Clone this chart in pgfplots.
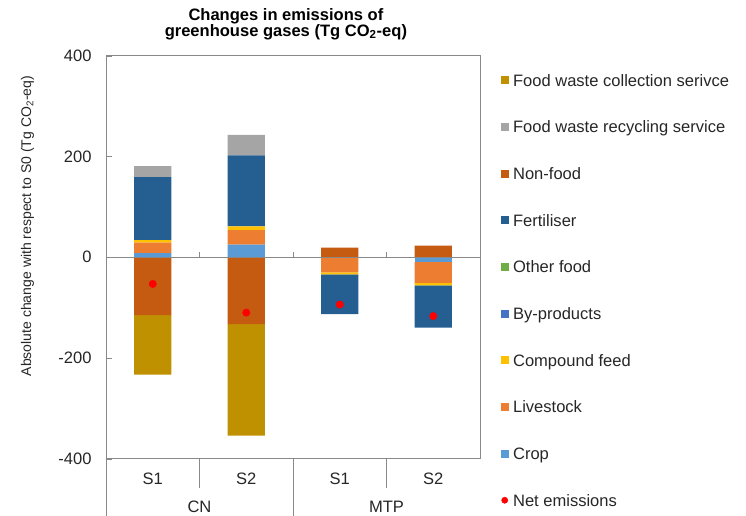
\documentclass[border=0pt]{standalone}
\usepackage{fontspec}
\setmainfont{Liberation Sans}
\usepackage{pgfplots}
\usepackage{pgfplotstable}
\pgfplotsset{compat=1.18}

\definecolor{cCollect}{HTML}{BF9000}
\definecolor{cRecycle}{HTML}{A5A5A5}
\definecolor{cNonfood}{HTML}{C55A11}
\definecolor{cFert}{HTML}{255E91}
\definecolor{cOther}{HTML}{70AD47}
\definecolor{cByprod}{HTML}{4472C4}
\definecolor{cCompound}{HTML}{FFC000}
\definecolor{cLivestock}{HTML}{ED7D31}
\definecolor{cCrop}{HTML}{5B9BD5}
\definecolor{axgray}{HTML}{898989}
\definecolor{txt}{HTML}{262626}

% Positive contributions (Tg CO2-eq), categories: CN-S1, CN-S2, MTP-S1, MTP-S2
\pgfplotstableread{
x crop livestock compound byprod other fert nonfood recycle collect
0 8   21  5  0 0 125 0   22 0
1 25  29  7  0 0 141 0   41 0
2 0   0   0  0 0 0   19  0  0
3 0   0   0  0 0 0   23  0  0
}\posdata
% Negative contributions
\pgfplotstableread{
x crop livestock compound byprod other fert nonfood recycle collect
0 0   0   0  0 0 0   -115 0 -118
1 0   0   0  0 0 0   -133 0 -221
2 0   -30 -4 0 0 -79 0    0 0
3 -10 -41 -5 0 0 -84 0    0 0
}\negdata
% Net emissions
\pgfplotstableread{
x net
0 -53
1 -110
2 -94
3 -117
}\netdata

\newcommand{\lblfont}{\fontsize{12.4}{14}\selectfont}

\pgfplotsset{
  chartbase/.style={
    at={(79.5pt,42.225pt)}, anchor=south west,
    width=280.5pt, height=302.25pt, scale only axis,
    xmin=-0.5, xmax=3.5, ymin=-400, ymax=400,
    clip=false,
  },
  stackbars/.style={ybar stacked, bar width=0.4},
  seg/.style={fill=#1, draw=none, forget plot},
  sq/.style={legend image code/.code={\fill[#1] (0pt,-2.625pt) rectangle (5.25pt,2.625pt);}},
}

\begin{document}
\begin{tikzpicture}
\path[use as bounding box] (0,0) rectangle (559.5pt,386.25pt);

% Positive stacks, frame, ticks, labels and legend
\begin{axis}[chartbase, stackbars,
  axis line style={axgray},
  ytick={-400,-200,0,200,400},
  yticklabels={-400,-200,0,200,400},
  ytick pos=left, tick align=inside, major tick length=4.3pt,
  tick style={axgray},
  xtick=\empty,
  yticklabel style={font=\lblfont, text=txt, inner sep=0pt, xshift=-10.7pt},
  legend style={at={(1.0553,0.9596)}, anchor=north west, draw=none, fill=none,
    inner sep=0pt, row sep=23pt, column sep=3.45pt, font=\lblfont, text=txt,
    nodes={inner sep=0pt, text height=10.5pt, text depth=1.5pt}},
  legend cell align=left,
]
\addplot[seg=cCrop]      table[x=x,y=crop]{\posdata};
\addplot[seg=cLivestock] table[x=x,y=livestock]{\posdata};
\addplot[seg=cCompound]  table[x=x,y=compound]{\posdata};
\addplot[seg=cByprod]    table[x=x,y=byprod]{\posdata};
\addplot[seg=cOther]     table[x=x,y=other]{\posdata};
\addplot[seg=cFert]      table[x=x,y=fert]{\posdata};
\addplot[seg=cNonfood]   table[x=x,y=nonfood]{\posdata};
\addplot[seg=cRecycle]   table[x=x,y=recycle]{\posdata};
\addplot[seg=cCollect]   table[x=x,y=collect]{\posdata};

\addlegendimage{sq=cCollect}   \addlegendentry{Food waste collection serivce}
\addlegendimage{sq=cRecycle}   \addlegendentry{Food waste recycling service}
\addlegendimage{sq=cNonfood}   \addlegendentry{Non-food}
\addlegendimage{sq=cFert}      \addlegendentry{Fertiliser}
\addlegendimage{sq=cOther}     \addlegendentry{Other food}
\addlegendimage{sq=cByprod}    \addlegendentry{By-products}
\addlegendimage{sq=cCompound}  \addlegendentry{Compound feed}
\addlegendimage{sq=cLivestock} \addlegendentry{Livestock}
\addlegendimage{sq=cCrop}      \addlegendentry{Crop}
\addlegendimage{legend image code/.code={\fill[red] (2.625pt,0pt) circle (2.3pt);}}
\addlegendentry{Net emissions}

% category axis below the frame
\draw[axgray] (axis cs:0.5,-400) -- (axis cs:0.5,-458);
\draw[axgray] (axis cs:2.5,-400) -- (axis cs:2.5,-458);
\draw[axgray] (axis cs:1.5,-400) -- (axis cs:1.5,-515);
\draw[axgray] (axis cs:-0.5,-400) -- (axis cs:-0.5,-515);
\node[font=\lblfont, text=txt, inner sep=0pt] at (axis cs:0,-439) {S1};
\node[font=\lblfont, text=txt, inner sep=0pt] at (axis cs:1,-439) {S2};
\node[font=\lblfont, text=txt, inner sep=0pt] at (axis cs:2,-439) {S1};
\node[font=\lblfont, text=txt, inner sep=0pt] at (axis cs:3,-439) {S2};
\node[font=\lblfont, text=txt, inner sep=0pt] at (axis cs:0.5,-496) {CN};
\node[font=\lblfont, text=txt, inner sep=0pt] at (axis cs:2.5,-496) {MTP};

% title and y label
\node[font=\fontsize{12.4}{12}\selectfont\bfseries, text=black, align=center,
  anchor=north, inner sep=0pt] at (rel axis cs:0.481,1.1184)
  {Changes in emissions of\\greenhouse gases (Tg CO\textsubscript{2}-eq)};
\node[font=\fontsize{10.5}{12}\selectfont, text=txt, rotate=90, inner sep=0pt]
  at (rel axis cs:-0.21,0.5774)
  {Absolute change with respect to S0 (Tg CO\textsubscript{2}-eq)};
\end{axis}

% Negative stacks
\begin{axis}[chartbase, stackbars, hide axis]
\addplot[seg=cCrop]      table[x=x,y=crop]{\negdata};
\addplot[seg=cLivestock] table[x=x,y=livestock]{\negdata};
\addplot[seg=cCompound]  table[x=x,y=compound]{\negdata};
\addplot[seg=cByprod]    table[x=x,y=byprod]{\negdata};
\addplot[seg=cOther]     table[x=x,y=other]{\negdata};
\addplot[seg=cFert]      table[x=x,y=fert]{\negdata};
\addplot[seg=cNonfood]   table[x=x,y=nonfood]{\negdata};
\addplot[seg=cRecycle]   table[x=x,y=recycle]{\negdata};
\addplot[seg=cCollect]   table[x=x,y=collect]{\negdata};
\end{axis}

% Zero line and net emissions
\begin{axis}[chartbase, hide axis]
\draw[axgray] (axis cs:-0.5,0) -- (axis cs:3.5,0);
\draw[axgray] (axis cs:0.5,0) -- (axis cs:0.5,10);
\draw[axgray] (axis cs:1.5,0) -- (axis cs:1.5,10);
\draw[axgray] (axis cs:2.5,0) -- (axis cs:2.5,10);
\addplot[only marks, mark=*, mark size=2.75pt, color=red, forget plot]
  table[x=x,y=net]{\netdata};
\end{axis}
\end{tikzpicture}
\end{document}
